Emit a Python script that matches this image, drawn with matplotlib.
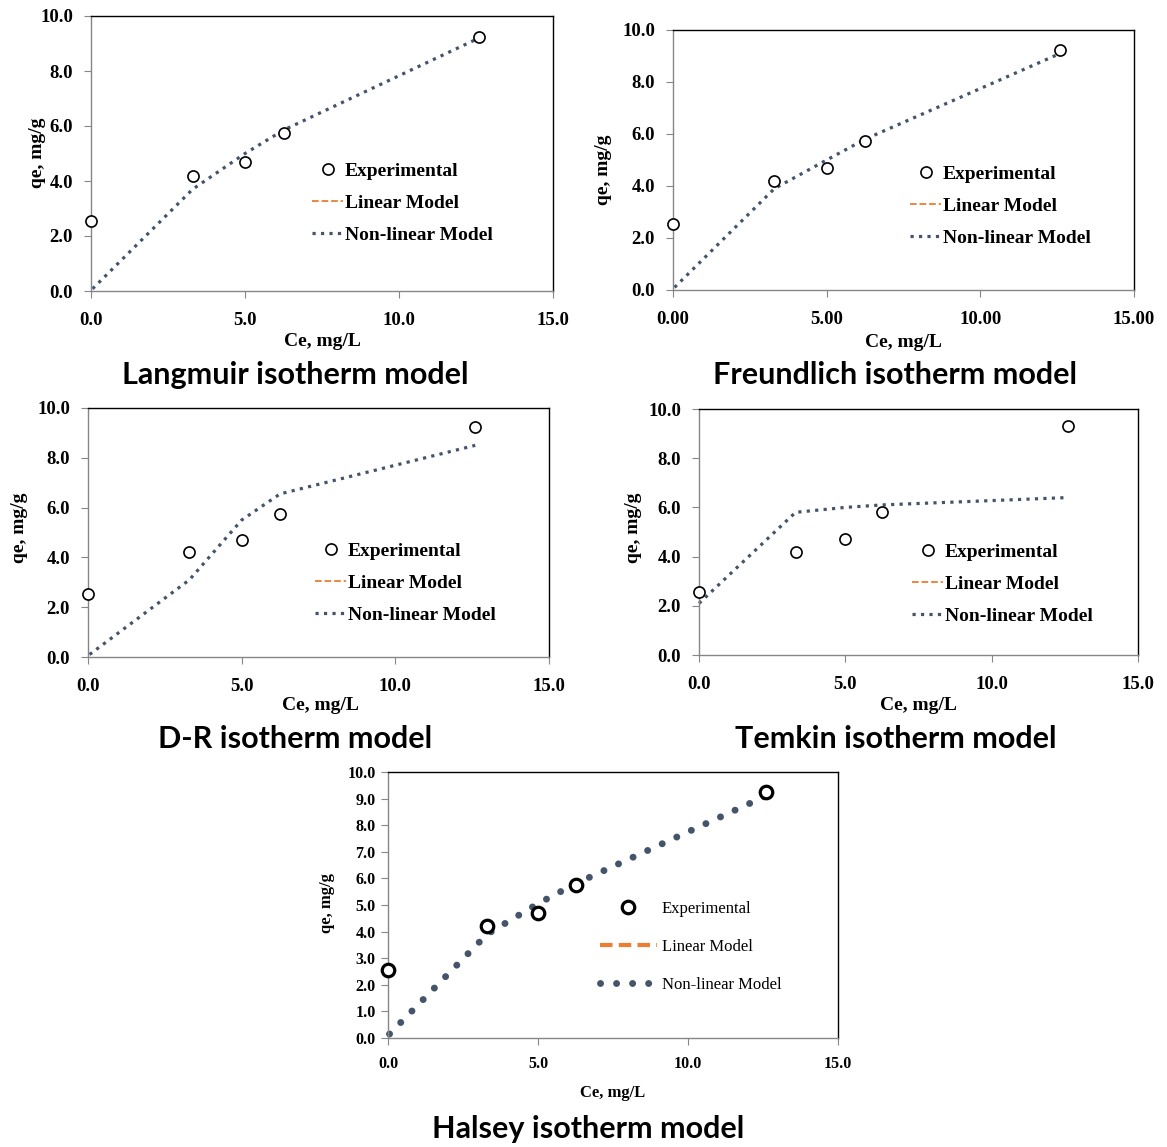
import numpy as np
import matplotlib
matplotlib.use("Agg")
import matplotlib.pyplot as plt

# experimental data (same for every model)
ce_exp = [0.0, 3.3, 5.0, 6.25, 12.6]
qe_exp = [2.55, 4.2, 4.7, 5.75, 9.25]
qe_exp_temkin = [2.55, 4.2, 4.7, 5.8, 9.3]

# non-linear model curves
ce_mod = [0.05, 3.3, 5.0, 6.25, 12.6]
qe_langmuir = [0.08, 3.7, 5.0, 5.85, 9.2]
qe_freundlich = [0.1, 3.9, 5.0, 5.8, 9.1]
qe_dr = [0.1, 3.1, 5.5, 6.55, 8.5]
ce_temkin = [0.0, 3.3, 5.0, 6.25, 12.6]
qe_temkin = [2.1, 5.8, 6.0, 6.1, 6.4]
qe_halsey = [0.15, 3.9, 5.05, 5.8, 9.1]

titles = ["Langmuir isotherm model", "Freundlich isotherm model",
          "D-R isotherm model", "Temkin isotherm model", "Halsey isotherm model"]

W, H = 1167, 1147
SERIF = "Liberation Serif"
GRAY = "#868686"
LINE = "#44546A"
ORANGE = "#ED7D31"

fig = plt.figure(figsize=(W / 100, H / 100), dpi=100)


def rect(l, t, r, b):
    return [l / W, 1 - b / H, (r - l) / W, (b - t) / H]


def fx(x):
    return x / W


def fy(y):
    return 1 - y / H


def make_panel(box, ce_m, qe_m, qe_e, title, xlab_pos, ylab_pos, title_pos, leg_pos,
               xfmt="%.1f", ystep=2.0, small=False):
    ax = fig.add_axes(rect(*box))
    tick_fs = 11.5 if small else 13.5
    leg_fs = 12 if small else 14
    if small:
        ax.plot(ce_m, qe_m, color=LINE, lw=5.0, dash_capstyle="round",
                linestyle=(0, (0.01, 2.3)), label="Non-linear Model", zorder=2)
        ax.plot(ce_exp, qe_e, "o", mfc="white", mec="black", mew=2.3, ms=9,
                label="Experimental", zorder=3)
        ax.plot([], [], color=ORANGE, lw=3, ls=(0, (3, 1.5)), label="Linear Model")
    else:
        ax.plot(ce_m, qe_m, color=LINE, lw=2.3, ls=":", label="Non-linear Model", zorder=2)
        ax.plot(ce_exp, qe_e, "o", mfc="white", mec="black", mew=1.2, ms=8,
                label="Experimental", zorder=3)
        ax.plot([], [], color=ORANGE, lw=1.3, ls="--", label="Linear Model")

    ax.set_xlim(0, 15)
    ax.set_ylim(0, 10)
    ax.set_xticks(np.arange(0, 15.1, 5))
    ax.set_yticks(np.arange(0, 10.1, ystep))
    ax.set_xticklabels([xfmt % v for v in np.arange(0, 15.1, 5)])
    ax.set_yticklabels(["%.1f" % v for v in np.arange(0, 10.1, ystep)])
    for lab in ax.get_xticklabels() + ax.get_yticklabels():
        lab.set_fontfamily(SERIF)
        lab.set_fontweight("bold")
        lab.set_fontsize(tick_fs)
    ax.tick_params(axis="x", direction="out", length=5, color=GRAY, pad=8 if small else 10)
    ax.tick_params(axis="y", direction="out", length=5, color=GRAY, pad=4 if small else 8)
    ax.spines["left"].set_color(GRAY)
    ax.spines["bottom"].set_color(GRAY)
    ax.spines["top"].set_color("black")
    ax.spines["right"].set_color("black")
    for s in ax.spines.values():
        s.set_linewidth(1.0)
    for ln in ax.lines:
        ln.set_clip_on(False)

    handles, labels = ax.get_legend_handles_labels()
    order = [labels.index("Experimental"), labels.index("Linear Model"),
             labels.index("Non-linear Model")]
    ax.legend([handles[i] for i in order], [labels[i] for i in order],
              loc="center left", bbox_to_anchor=(fx(leg_pos[0]), fy(leg_pos[1])),
              bbox_transform=fig.transFigure, frameon=False, borderpad=0,
              borderaxespad=0, numpoints=1,
              handlelength=3.4 if small else 1.6,
              handletextpad=0.3 if small else 0.1,
              labelspacing=1.3 if small else 0.75,
              prop={"family": SERIF, "weight": "normal" if small else "bold",
                    "size": leg_fs})
    fig.text(fx(xlab_pos[0]), fy(xlab_pos[1]), "Ce, mg/L", family=SERIF, weight="bold",
             fontsize=12 if small else 14, ha="center", va="center")
    fig.text(fx(ylab_pos[0]), fy(ylab_pos[1]), "qe, mg/g", family=SERIF, weight="bold",
             fontsize=12 if small else 14, ha="center", va="center", rotation=90)
    fig.text(fx(title_pos[0]), fy(title_pos[1]), title, family="Lato", weight="bold",
             fontsize=22, ha="center", va="center")
    return ax


make_panel((91, 16, 553, 291), ce_mod, qe_langmuir, qe_exp, titles[0],
           (322, 342), (38, 153), (295, 375), (312, 203))
make_panel((673, 30, 1134, 290), ce_mod, qe_freundlich, qe_exp, titles[1],
           (903, 343), (604, 170), (895, 375), (910, 206), xfmt="%.2f")
make_panel((88, 408, 549, 657), ce_mod, qe_dr, qe_exp, titles[2],
           (320, 706), (20, 528), (295, 739), (315, 583))
make_panel((699, 409, 1138, 655), ce_temkin, qe_temkin, qe_exp_temkin, titles[3],
           (918, 706), (634, 528), (896, 739), (912, 584))
make_panel((388, 772, 838, 1038), ce_mod, qe_halsey, qe_exp, titles[4],
           (613, 1093), (327, 903), (588, 1129), (600, 947), ystep=1.0, small=True)

fig.savefig("out.png", dpi=100, facecolor="white")
